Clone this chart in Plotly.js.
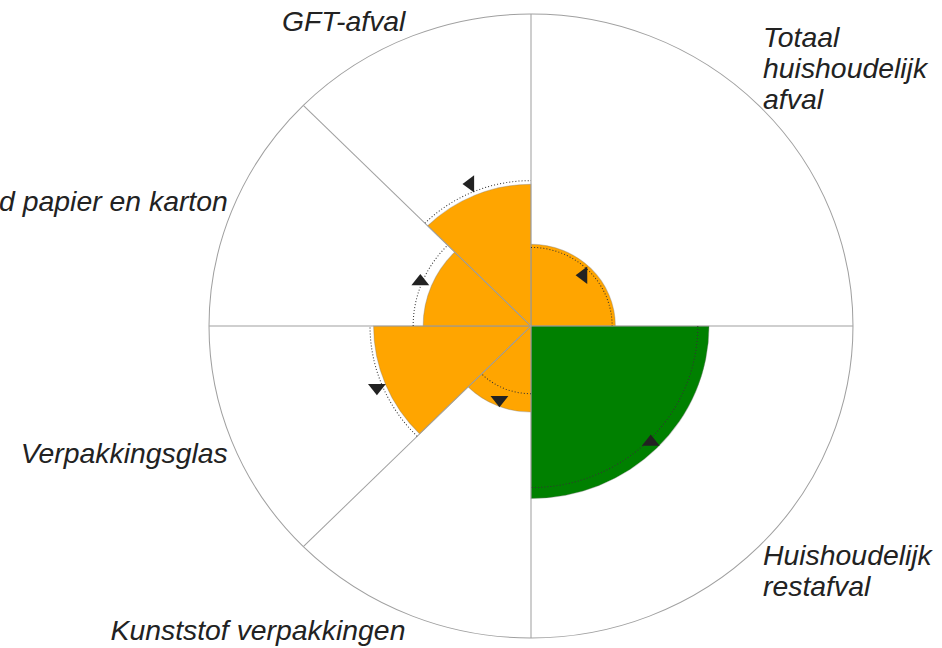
<!DOCTYPE html>
<html>
<head>
<meta charset="utf-8">
<script src="https://cdn.plot.ly/plotly-3.0.1.min.js"></script>
<style>
  html, body { margin: 0; padding: 0; background: #ffffff; overflow: hidden; width: 942px; height: 648px; }
  /* the reference is slightly wider than tall: stretch horizontally about the polar centre */
  #chart { width: 942px; height: 648px; transform: scaleX(1.032); transform-origin: 531px 0; }
</style>
</head>
<body>
<div id="chart"></div>
<script>
// ---- data ----
const categories = [
  "Totaal<br>huishoudelijk<br>afval",
  "Huishoudelijk<br>restafval",
  "Kunststof verpakkingen",
  "Verpakkingsglas",
  "Oud papier en karton",
  "GFT-afval"
];
const sectorWidths   = [90, 90, 45, 45, 45, 45];          // degrees per category
const currentValues  = [26.2, 55.3, 27.6, 48.9, 33.5, 45.4];
const previousValues = [25.2, 51.8, 21.7, 50.0, 36.6, 46.6];
const arrowValues    = [23.0, 52.6, 25.6, 51.8, 37.2, 49.3];
const radialMax = 100;

// ---- styles ----
const barColors    = ["#FFA500", "#008000", "#FFA500", "#FFA500", "#FFA500", "#FFA500"];
const arrowSymbols = ["triangle-left", "triangle-up", "triangle-down", "triangle-down", "triangle-up", "triangle-left"];
const labelFontSize = 27.5;
const labelLineSpacing = 1.13;   // em, tighter than Plotly's default 1.3
const lowerLabelLift = 10;       // px, pulls labels below the centre closer to the ring

// sector geometry derived from the widths
const starts = [];
const centers = [];
let acc = 0;
sectorWidths.forEach(w => { starts.push(acc); centers.push(acc + w / 2); acc += w; });

// boundary lines from centre to the outer ring
const gridR = [], gridT = [];
starts.forEach(s => { gridR.push(0, radialMax, null); gridT.push(s, s, null); });

// dotted arcs at the previous values (arc path drawn in 1-degree steps)
const arcR = [], arcT = [];
previousValues.forEach((v, i) => {
  for (let t = starts[i]; t <= starts[i] + sectorWidths[i] + 1e-9; t += 1) {
    arcR.push(v); arcT.push(t);
  }
  arcR.push(null); arcT.push(null);
});

const traces = [
  {
    type: "scatterpolar", mode: "lines",
    r: gridR, theta: gridT,
    line: { color: "#a0a0a0", width: 1 },
    hoverinfo: "skip", showlegend: false
  },
  {
    type: "barpolar",
    r: currentValues, theta: centers, width: sectorWidths,
    marker: { color: barColors, line: { color: "rgba(120,120,120,0.35)", width: 1 } },
    hoverinfo: "skip", showlegend: false
  },
  {
    type: "scatterpolar", mode: "lines",
    r: arcR, theta: arcT,
    line: { color: "#333333", width: 1, dash: "1px,2px" },
    hoverinfo: "skip", showlegend: false
  },
  {
    type: "scatterpolar", mode: "markers",
    r: arrowValues, theta: centers,
    marker: { symbol: arrowSymbols, size: 15, color: "#222222" },
    hoverinfo: "skip", showlegend: false
  }
];

const layout = {
  width: 942, height: 648,
  margin: { l: 219, r: 99, t: 14, b: 10 },
  paper_bgcolor: "#ffffff",
  showlegend: false,
  polar: {
    bgcolor: "#ffffff",
    angularaxis: {
      rotation: 90, direction: "clockwise",
      tickmode: "array", tickvals: centers, ticktext: categories,
      showgrid: false, showline: true, linecolor: "#a0a0a0", linewidth: 1,
      ticks: "",
      tickfont: { family: "Liberation Sans, Arial, sans-serif", size: labelFontSize, color: "#222222", style: "italic" }
    },
    radialaxis: { range: [0, radialMax], visible: false }
  }
};

Plotly.newPlot("chart", traces, layout, { staticPlot: true, displayModeBar: false }).then(gd => {
  gd.querySelectorAll(".angularaxistick text").forEach(t => {
    const d = t.__data__ || (t.parentNode && t.parentNode.__data__);
    const theta = d && typeof d.x === "number" ? d.x : 0;
    const rad = (90 - theta) * Math.PI / 180;
    const sin = Math.sin(rad);
    let shift = 0;
    // tighter line spacing for multi-line category labels
    const lines = t.querySelectorAll("tspan.line");
    if (lines.length > 1) {
      lines.forEach((ln, i) => ln.setAttribute("dy", (i * labelLineSpacing) + "em"));
      const removed = (lines.length - 1) * (1.3 - labelLineSpacing) * labelFontSize;
      shift += 0.25 * (1 + sin) * removed;
    }
    // labels below the centre sit a little closer to the ring
    if (sin < 0) shift += lowerLabelLift * sin;
    const tr = t.getAttribute("transform") || "";
    t.setAttribute("transform", tr + " translate(0," + shift.toFixed(2) + ")");
  });
});
</script>
</body>
</html>
